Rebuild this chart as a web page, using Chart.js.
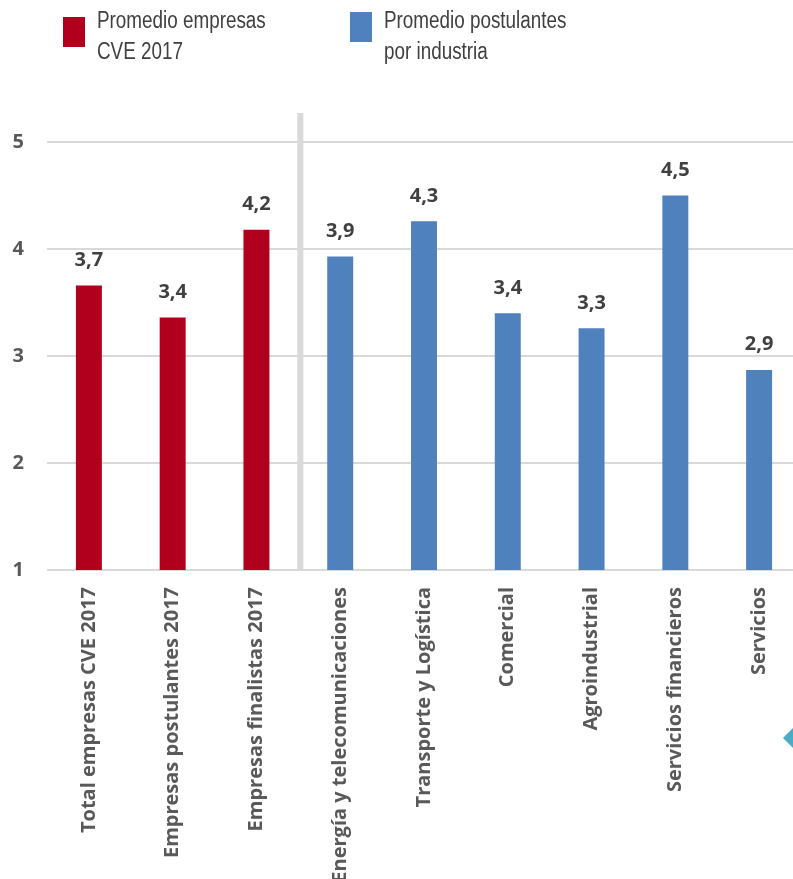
<!DOCTYPE html>
<html lang="es">
<head>
    <meta charset="UTF-8">
    <title>Promedio empresas CVE 2017</title>
    <script src="https://cdn.jsdelivr.net/npm/chart.js"></script>
    <style>
        body {
            margin: 0;
            padding: 0;
            background: #ffffff;
            overflow: hidden;
            width: 793px;
            height: 879px;
            position: relative;
        }
        #chart {
            position: absolute;
            left: 0;
            top: 0;
        }
        .legend-item {
            position: absolute;
            top: 0;
            font-family: 'Liberation Sans', Arial, sans-serif;
            font-size: 23px;
            line-height: 31px;
            color: #404040;
        }
        .legend-box {
            position: absolute;
            width: 22px;
            height: 30px;
        }
        .legend-text {
            position: absolute;
            white-space: nowrap;
            /* narrow face, like Arial Narrow */
            transform: scaleX(0.82);
            transform-origin: left top;
        }
        .corner-mark {
            position: absolute;
            left: 783px;
            top: 728px;
            width: 0;
            height: 0;
            border-top: 10px solid transparent;
            border-bottom: 10px solid transparent;
            border-right: 10px solid #4bacc6;
        }
    </style>
</head>
<body>
    <canvas id="chart" width="801" height="879"></canvas>
    <div id="legend"></div>
    <div class="corner-mark"></div>
    <script>
        const categories = [
            'Total empresas CVE 2017',
            'Empresas postulantes 2017',
            'Empresas finalistas 2017',
            'Energía y telecomunicaciones',
            'Transporte y Logística',
            'Comercial',
            'Agroindustrial',
            'Servicios financieros',
            'Servicios'
        ];
        const empresasValues = [3.66, 3.36, 4.18];
        const industriaValues = [3.93, 4.26, 3.40, 3.26, 4.50, 2.87];
        const yTicks = [1, 2, 3, 4, 5];
        const seriesNames = [
            ['Promedio empresas', 'CVE 2017'],
            ['Promedio postulantes', 'por industria']
        ];
        const seriesColors = ['#b0001e', '#4f81bd'];

        // pad each series so it only occupies its own categories
        const empresasData = empresasValues.concat(industriaValues.map(() => null));
        const industriaData = empresasValues.map(() => null).concat(industriaValues);

        const fmt = v => v.toFixed(1).replace('.', ',');

        // value labels above each bar
        const barLabels = {
            id: 'barLabels',
            afterDatasetsDraw(chart) {
                const ctx = chart.ctx;
                ctx.save();
                ctx.font = 'bold 20px "Open Sans"';
                ctx.fillStyle = '#404040';
                ctx.textAlign = 'center';
                ctx.textBaseline = 'alphabetic';
                chart.data.datasets.forEach((ds, i) => {
                    chart.getDatasetMeta(i).data.forEach((bar, j) => {
                        const v = ds.data[j];
                        if (v === null) return;
                        ctx.fillText(fmt(v), bar.x, bar.y - 19.5);
                    });
                });
                ctx.restore();
            }
        };

        // grey divider between the company totals and the industries
        const divider = {
            id: 'divider',
            beforeDatasetsDraw(chart) {
                const x = chart.scales.x;
                const pos = (x.getPixelForValue(empresasValues.length - 1) + x.getPixelForValue(empresasValues.length)) / 2 + 2;
                const ctx = chart.ctx;
                ctx.save();
                ctx.strokeStyle = '#d9d9d9';
                ctx.lineWidth = 6;
                ctx.beginPath();
                ctx.moveTo(pos, chart.chartArea.top - 29);
                ctx.lineTo(pos, chart.chartArea.bottom);
                ctx.stroke();
                ctx.restore();
            }
        };

        const chart = new Chart(document.getElementById('chart'), {
            type: 'bar',
            data: {
                labels: categories,
                datasets: [
                    {
                        label: seriesNames[0].join(' '),
                        data: empresasData,
                        backgroundColor: seriesColors[0]
                    },
                    {
                        label: seriesNames[1].join(' '),
                        data: industriaData,
                        backgroundColor: seriesColors[1]
                    }
                ]
            },
            options: {
                responsive: false,
                animation: false,
                layout: { padding: { top: 142, left: 0, right: 0, bottom: 0 } },
                datasets: {
                    bar: {
                        grouped: false,
                        barPercentage: 0.31,
                        categoryPercentage: 1.0
                    }
                },
                plugins: {
                    legend: { display: false },
                    tooltip: { enabled: false }
                },
                scales: {
                    x: {
                        grid: { display: false, drawTicks: false },
                        border: { display: false },
                        ticks: {
                            minRotation: 90,
                            maxRotation: 90,
                            autoSkip: false,
                            padding: 17,
                            color: '#595959',
                            font: { family: 'Open Sans', weight: 'bold', size: 20 }
                        },
                        afterFit(scale) { scale.height = 309; }
                    },
                    y: {
                        min: yTicks[0],
                        max: yTicks[yTicks.length - 1],
                        afterBuildTicks(scale) {
                            scale.ticks = yTicks.map(v => ({ value: v }));
                        },
                        grid: { color: '#d9d9d9', lineWidth: 2, drawTicks: false },
                        border: { display: false },
                        ticks: {
                            padding: 23,
                            color: '#595959',
                            font: { family: 'Open Sans', weight: 'bold', size: 20 }
                        },
                        afterFit(scale) { scale.width = 47; }
                    }
                }
            },
            plugins: [divider, barLabels]
        });

        // legend built from the dataset names and colours
        const legendPos = [
            { box: [63, 17], text: [97, 5] },
            { box: [350, 12], text: [384, 5] }
        ];
        const legend = document.getElementById('legend');
        seriesNames.forEach((lines, i) => {
            const item = document.createElement('div');
            item.className = 'legend-item';
            const box = document.createElement('div');
            box.className = 'legend-box';
            box.style.left = legendPos[i].box[0] + 'px';
            box.style.top = legendPos[i].box[1] + 'px';
            box.style.background = chart.data.datasets[i].backgroundColor;
            const text = document.createElement('div');
            text.className = 'legend-text';
            text.style.left = legendPos[i].text[0] + 'px';
            text.style.top = legendPos[i].text[1] + 'px';
            text.innerHTML = lines.join('<br>');
            item.appendChild(box);
            item.appendChild(text);
            legend.appendChild(item);
        });
    </script>
</body>
</html>
